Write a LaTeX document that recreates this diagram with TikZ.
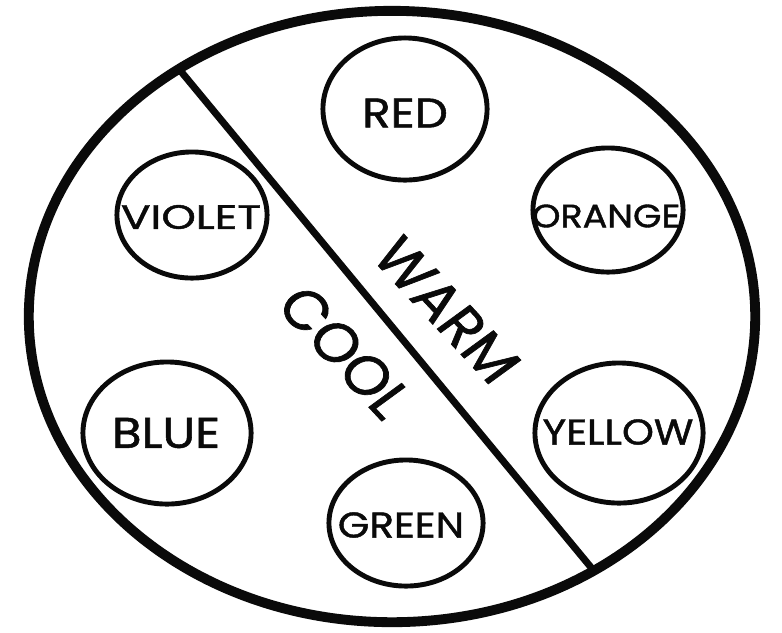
\documentclass[tikz,border=0pt]{standalone}
\usepackage{fontspec}
\setmainfont{Poppins}
\newfontfamily\hand[FakeBold=1.2]{Poppins}
\usepackage{xcolor}
\usepackage{tikz}
\usetikzlibrary{shapes.geometric}
\definecolor{figline}{RGB}{10,10,10}
\newcommand{\fsz}[1]{\hand\fontsize{#1}{#1}\selectfont}
\tikzset{
  rim/.style  ={draw=figline, line width=2.8pt, ellipse, inner sep=0pt},
  ring/.style 2 args={draw=figline, line width=1.4pt, ellipse, inner sep=0pt,
                minimum width=#1*0.02cm, minimum height=#2*0.02cm},
  split/.style={draw=figline, line width=2pt, line cap=round},
  tag/.style  ={text=figline, inner sep=0pt, xscale=1.13},
}

\begin{document}
\begin{tikzpicture}[x=0.01cm,y=-0.01cm]
  \useasboundingbox (0,0) rectangle (782,632);
  % outer wheel and divider
  \node[rim, minimum width=7.26cm, minimum height=6.11cm] (wheel) at (392,316.5) {};
  \coordinate (cuttop) at (179,69);
  \coordinate (cutbot) at (594,571);
  \draw[split] (cuttop) -- (cutbot);
  % warm side
  \node[ring={82}{71}] (red)    at (405,109) {};
  \node[ring={75}{62}] (orange) at (608,210) {};
  \node[ring={84}{70}] (yellow) at (619,433) {};
  \node[tag, font=\fsz{11.8}] (redtxt)    at (405,113) {RED};
  \node[tag, font=\fsz{9.2}]  (orangetxt) at (606,216) {ORANGE};
  \node[tag, font=\fsz{10.2}] (yellowtxt) at (618,432) {YELLOW};
  % cool side
  \node[ring={75}{63}] (violet) at (192,215) {};
  \node[ring={84}{71}] (blue)   at (167,433) {};
  \node[ring={77}{63}] (green)  at (406,523) {};
  \node[tag, font=\fsz{9.6}, xscale=1.15] (violettxt) at (191,217) {VIOLET};
  \node[tag, font=\fsz{12.2}] (bluetxt)   at (166,433) {BLUE};
  \node[tag, font=\fsz{10.2}] (greentxt)  at (401,525) {GREEN};
  % side names
  \node[tag, font=\fsz{15.4}, rotate=-50.5] (warm) at (447,310) {WARM};
  \node[tag, font=\fsz{15.4}, rotate=-50.5] (cool) at (345,352) {COOL};
\end{tikzpicture}
\end{document}
